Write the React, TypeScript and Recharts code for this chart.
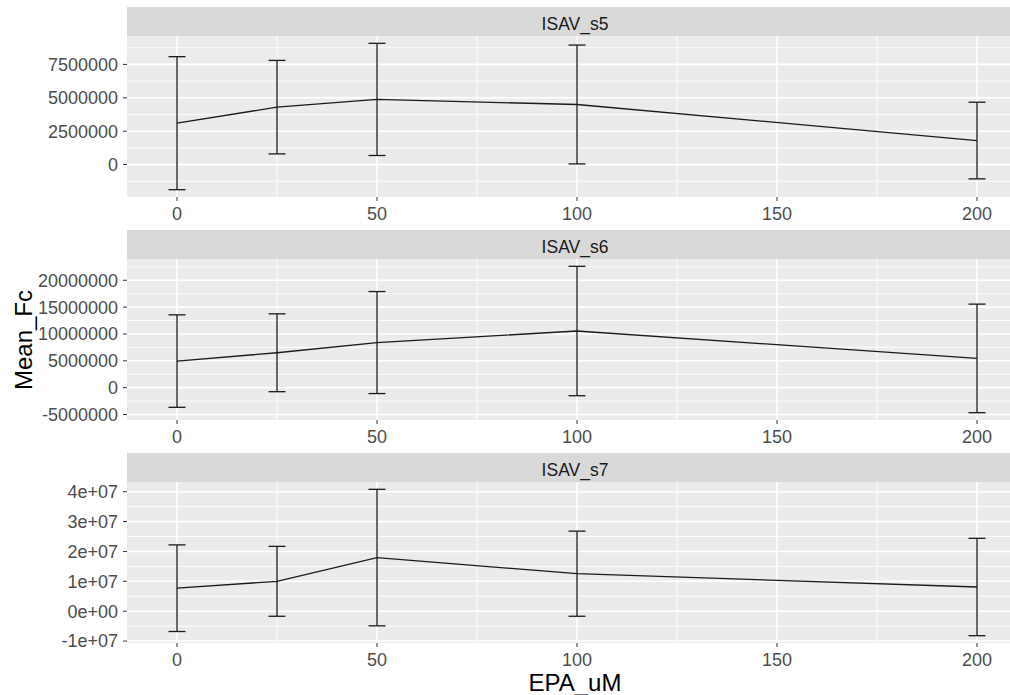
import React from 'react';
import { LineChart, Line, XAxis, YAxis, CartesianGrid, ErrorBar } from 'recharts';

// EPA concentration (uM)
const epa = [0, 25, 50, 100, 200];

const s5Mean = [3100000, 4300000, 4880000, 4500000, 1800000];
const s5Sd = [4980000, 3500000, 4200000, 4450000, 2870000];
const s6Mean = [4950000, 6500000, 8400000, 10550000, 5450000];
const s6Sd = [8610000, 7250000, 9500000, 12050000, 10110000];
const s7Mean = [7700000, 10000000, 17950000, 12550000, 8100000];
const s7Sd = [14500000, 11700000, 22850000, 14250000, 16300000];

const xTicks = [0, 50, 100, 150, 200];
const xMinor = [25, 75, 125, 175];
const xDomain = [-12.5, 208.25];

const s5Ticks = [0, 2500000, 5000000, 7500000];
const s5TickLabels = ['0', '2500000', '5000000', '7500000'];
const s5Minor = [-1250000, 1250000, 3750000, 6250000, 8750000];

const s6Ticks = [-5000000, 0, 5000000, 10000000, 15000000, 20000000];
const s6TickLabels = ['-5000000', '0', '5000000', '10000000', '15000000', '20000000'];
const s6Minor = [-2500000, 2500000, 7500000, 12500000, 17500000, 22500000];

const s7Ticks = [-10000000, 0, 10000000, 20000000, 30000000, 40000000];
const s7TickLabels = ['-1e+07', '0e+00', '1e+07', '2e+07', '3e+07', '4e+07'];
const s7Minor = [-5000000, 5000000, 15000000, 25000000, 35000000];

const PLOT_LEFT = 127;
const PLOT_H = 161;
const STRIP_H = 29;
const INK = '#1A1A1A';

// ggplot-style 5% expansion of the data range
const expand = (mean: number[], sd: number[]) => {
  const lo = Math.min(...mean.map((m, i) => m - sd[i]));
  const hi = Math.max(...mean.map((m, i) => m + sd[i]));
  const pad = (hi - lo) * 0.05;
  return [lo - pad, hi + pad];
};

interface FacetProps {
  top: number;
  mean: number[];
  sd: number[];
  ticks: number[];
  labels: string[];
  minor: number[];
}

const Facet = ({ top, mean, sd, ticks, labels, minor }: FacetProps) => {
  const data = epa.map((x, i) => ({ x, mean: mean[i], sd: sd[i] }));
  const domain = expand(mean, sd);
  return (
    <div style={{ position: 'absolute', left: 0, top }}>
      <LineChart width={1010} height={PLOT_H + 30} data={data} margin={{ top: 0, right: 0, bottom: 0, left: 0 }}>
        <CartesianGrid
          fill="#EBEBEB"
          stroke="#FFFFFF"
          strokeWidth={0.9}
          horizontalValues={minor}
          verticalValues={xMinor}
        />
        <CartesianGrid stroke="#FFFFFF" strokeWidth={1.6} horizontalValues={ticks} verticalValues={xTicks} />
        <XAxis
          type="number"
          dataKey="x"
          domain={xDomain}
          ticks={xTicks}
          allowDataOverflow
          interval={0}
          height={30}
          tickSize={4}
          tickMargin={6}
          axisLine={false}
          tickLine={{ stroke: '#333333' }}
          tick={{ fill: '#4D4D4D', fontSize: 18 }}
        />
        <YAxis
          type="number"
          domain={domain}
          ticks={ticks}
          allowDataOverflow
          interval={0}
          width={PLOT_LEFT}
          tickSize={4}
          tickMargin={5}
          axisLine={false}
          tickLine={{ stroke: '#333333' }}
          tick={{ fill: '#4D4D4D', fontSize: 18 }}
          tickFormatter={(v: number) => labels[ticks.indexOf(v)] ?? String(v)}
        />
        <Line
          type="linear"
          dataKey="mean"
          stroke={INK}
          strokeWidth={1.3}
          dot={false}
          isAnimationActive={false}
        >
          <ErrorBar dataKey="sd" direction="y" width={8.5} stroke={INK} strokeWidth={1.3} isAnimationActive={false} />
        </Line>
      </LineChart>
    </div>
  );
};

const facets = [
  { title: 'ISAV_s5', top: 36, mean: s5Mean, sd: s5Sd, ticks: s5Ticks, labels: s5TickLabels, minor: s5Minor },
  { title: 'ISAV_s6', top: 259, mean: s6Mean, sd: s6Sd, ticks: s6Ticks, labels: s6TickLabels, minor: s6Minor },
  { title: 'ISAV_s7', top: 482, mean: s7Mean, sd: s7Sd, ticks: s7Ticks, labels: s7TickLabels, minor: s7Minor },
];

export default function App() {
  return (
    <div
      style={{
        position: 'absolute',
        left: 0,
        top: 0,
        width: 1010,
        height: 695,
        background: '#FFFFFF',
        overflow: 'hidden',
        fontFamily: '"Liberation Sans", Arial, sans-serif',
      }}
    >
      <svg width={1010} height={695} style={{ position: 'absolute', left: 0, top: 0 }}>
        {facets.map((f) => (
          <g key={f.title}>
            <rect x={PLOT_LEFT} y={f.top - STRIP_H} width={1010 - PLOT_LEFT} height={STRIP_H} fill="#D9D9D9" />
            <text x={575} y={f.top - 6} textAnchor="middle" fontSize={17.5} fill={INK}>
              {f.title}
            </text>
          </g>
        ))}
      </svg>
      {facets.map((f) => (
        <Facet key={f.title} {...f} />
      ))}
      <svg width={1010} height={695} style={{ position: 'absolute', left: 0, top: 0, pointerEvents: 'none' }}>
        <text x={32} y={340} transform="rotate(-90 32 340)" textAnchor="middle" fontSize={24} fill="#000000">
          Mean_Fc
        </text>
        <text x={575} y={691} textAnchor="middle" fontSize={24} fill="#000000">
          EPA_uM
        </text>
      </svg>
    </div>
  );
}
